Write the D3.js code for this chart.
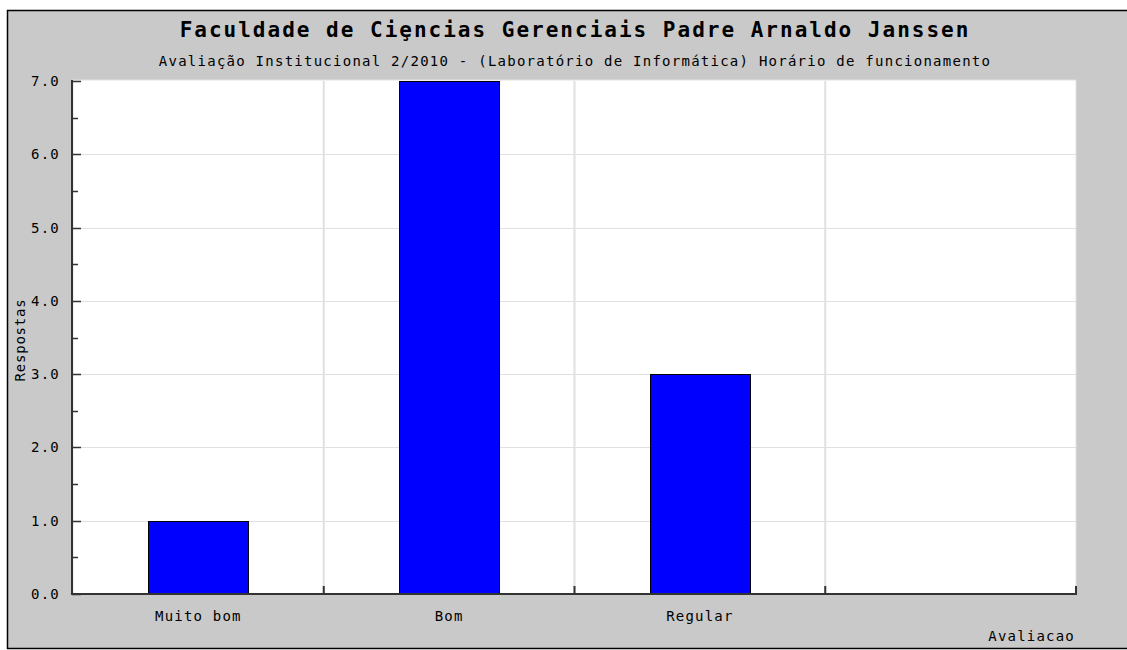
<!DOCTYPE html>
<html><head><meta charset="utf-8">
<script src="https://cdn.jsdelivr.net/npm/d3@7/dist/d3.min.js"></script>
<style>
html,body{margin:0;padding:0;background:#fff;overflow:hidden;}
svg{display:block;}
text{font-family:"DejaVu Sans Mono","Liberation Mono",monospace;fill:#000;}
</style></head>
<body>
<svg id="chart" width="1127" height="650"></svg>
<script>
const title = "Faculdade de Ciȩncias Gerenciais Padre Arnaldo Janssen";
const subtitle = "Avaliação Institucional 2/2010 - (Laboratório de Informática) Horário de funcionamento";
const categories = ["Muito bom", "Bom", "Regular", ""];
const values = [1, 7, 3, null];
const yTicks = [0, 1, 2, 3, 4, 5, 6, 7];
const yMinorTicks = [0.5, 1.5, 2.5, 3.5, 4.5, 5.5, 6.5];
const yLabel = "Respostas";
const xLabel = "Avaliacao";

const svg = d3.select("#chart");
const W = 1127, H = 650;
const m = {left: 73, right: 1076, top: 81, bottom: 594};

// background with border (right edge is off-canvas)
svg.append("rect").attr("x", 0).attr("y", 0).attr("width", W).attr("height", H).attr("fill", "#fff");
svg.append("rect").attr("x", 7.5).attr("y", 10.5).attr("width", W + 60).attr("height", 638)
  .attr("fill", "#c9c9c9").attr("stroke", "#000").attr("stroke-width", 1.5);

const x = d3.scaleBand().domain(categories).range([m.left, m.right]).paddingInner(0).paddingOuter(0);
const y = d3.scaleLinear().domain([0, 7]).range([m.bottom, m.top]);

// plot area
svg.append("rect").attr("x", m.left).attr("y", m.top - 1).attr("width", m.right - m.left).attr("height", m.bottom - m.top + 1)
  .attr("fill", "#fff").attr("stroke", "#e2e2e2").attr("stroke-width", 1);

// horizontal grid
svg.append("g").selectAll("line").data(yTicks.filter(d => d > 0 && d < 7)).join("line")
  .attr("x1", m.left).attr("x2", m.right)
  .attr("y1", d => Math.round(y(d)) + 0.5).attr("y2", d => Math.round(y(d)) + 0.5)
  .attr("stroke", "#e0e0e0").attr("stroke-width", 1);

// vertical grid at category boundaries
const bounds = categories.slice(1).map(c => x(c));
svg.append("g").selectAll("line").data(bounds).join("line")
  .attr("x1", d => d).attr("x2", d => d)
  .attr("y1", m.top).attr("y2", m.bottom)
  .attr("stroke", "#e0e0e0").attr("stroke-width", 2);

// bars
const bw = x.bandwidth() * 0.4;
svg.append("g").selectAll("rect").data(categories.map((c, i) => ({c, v: values[i]})).filter(d => d.v != null)).join("rect")
  .attr("x", d => Math.round(x(d.c) + (x.bandwidth() - bw) / 2) + 0.5)
  .attr("width", Math.round(bw))
  .attr("y", d => Math.round(y(d.v)) + 0.5)
  .attr("height", d => Math.round(y(0)) - Math.round(y(d.v)))
  .attr("fill", "#0000ff").attr("stroke", "#000").attr("stroke-width", 1);

// y axis
const yAxis = svg.append("g").attr("transform", `translate(${m.left - 1},0)`);
yAxis.append("line").attr("x1", 0).attr("x2", 0).attr("y1", m.top - 1).attr("y2", m.bottom + 1)
  .attr("stroke", "#333").attr("stroke-width", 2);
yAxis.selectAll(".maj").data(yTicks).join("line").attr("class", "maj")
  .attr("x1", 0).attr("x2", 9).attr("y1", d => Math.round(y(d)) + 0.5).attr("y2", d => Math.round(y(d)) + 0.5)
  .attr("stroke", "#333").attr("stroke-width", 1.5);
yAxis.selectAll(".min").data(yMinorTicks).join("line").attr("class", "min")
  .attr("x1", 0).attr("x2", 6).attr("y1", d => Math.round(y(d)) + 0.5).attr("y2", d => Math.round(y(d)) + 0.5)
  .attr("stroke", "#333").attr("stroke-width", 1.5);
svg.append("g").selectAll("text").data(yTicks).join("text")
  .attr("x", 60).attr("y", d => y(d) + 5)
  .attr("text-anchor", "end").attr("font-size", 14).attr("letter-spacing", 1.2)
  .text(d => d3.format(".1f")(d));

// x axis
const xAxis = svg.append("g");
xAxis.append("line").attr("x1", m.left - 2).attr("x2", m.right + 1).attr("y1", m.bottom).attr("y2", m.bottom)
  .attr("stroke", "#333").attr("stroke-width", 2);
xAxis.selectAll("line.t").data(bounds.concat([m.right])).join("line").attr("class", "t")
  .attr("x1", d => d).attr("x2", d => d).attr("y1", m.bottom - 8).attr("y2", m.bottom)
  .attr("stroke", "#333").attr("stroke-width", 2);
svg.append("g").selectAll("text").data(categories).join("text")
  .attr("x", d => x(d) + x.bandwidth() / 2).attr("y", 621)
  .attr("text-anchor", "middle").attr("font-size", 14).attr("letter-spacing", 1.2)
  .text(d => d);

// axis titles
svg.append("text").attr("x", 1075).attr("y", 641).attr("text-anchor", "end")
  .attr("font-size", 14).attr("letter-spacing", 1.2).text(xLabel);
svg.append("text").attr("transform", "translate(25,340) rotate(-90)").attr("text-anchor", "middle")
  .attr("font-size", 14).attr("letter-spacing", 0.8).text(yLabel);

// titles
svg.append("text").attr("x", 575).attr("y", 37).attr("text-anchor", "middle")
  .attr("font-size", 21).attr("font-weight", "bold").attr("letter-spacing", 2).text(title);
svg.append("text").attr("x", 575).attr("y", 66).attr("text-anchor", "middle")
  .attr("font-size", 14).attr("letter-spacing", 1.25).text(subtitle);
</script>
</body></html>
